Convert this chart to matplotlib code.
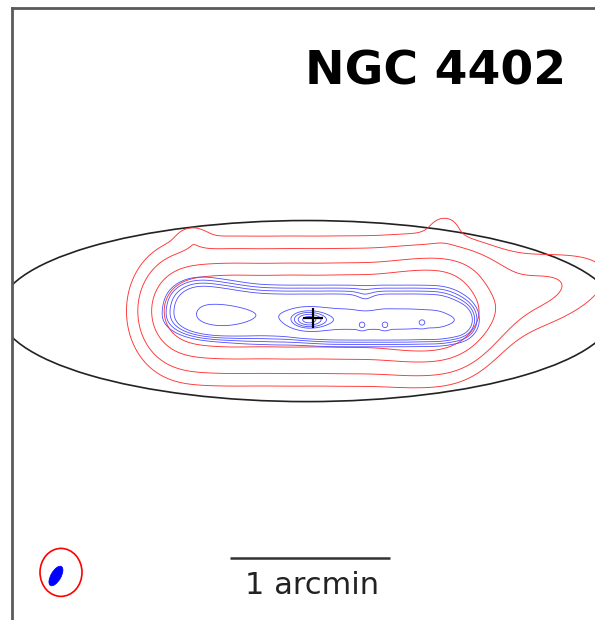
import numpy as np
import matplotlib
matplotlib.use("Agg")
import matplotlib.pyplot as plt
from matplotlib.patches import Ellipse

# ---------------- data (arcsec offsets from the galaxy centre) ----------------
galaxy_name = "NGC 4402"
scale_bar_label = "1 arcmin"
scale_bar_length = 60.0          # arcsec

# optical disk ellipse
disk_center = (-2.25, 2.6)
disk_width = 231.0
disk_height = 67.9

# red (low resolution) map: gaussian components
red_x = [-49.9, -29.3, -8.6, 12.0, 32.6, 51.4, 85.1, 66.4, 49.5, -45.4]
red_y = [2.6, 2.6, 2.6, 2.6, 2.6, 2.6, 8.25, 21.0, 34.9, 30.75]
red_sx = [12.0, 12.0, 12.0, 12.0, 12.0, 12.0, 23.6, 18.75, 4.5, 4.0]
red_sy = [15.0, 15.0, 15.0, 15.0, 15.0, 15.0, 10.1, 6.75, 3.75, 3.0]
red_pa = [0, 0, 0, 0, 0, 0, 20, 0, 0, 0]
red_amp = [0.685, 0.685, 0.685, 0.685, 0.685, 0.685, 0.298, 0.12, 0.13, 0.11]
red_levels = [0.172, 0.295, 0.487, 0.667]

# blue (high resolution) map
blue_x = [-42.75, -33.4, -24.0, -13.9, -3.75, 6.4, 16.5, 26.6, 36.75, 46.9,   # disk
          -35.6,                                                           # west knot
          -1.9,                                                            # nucleus
          6.4, 16.9, 27.4, 37.9, 48.4, 55.0,                               # east ridge
          18.4, 27.0, 40.9,                                                # small knots
          19.5]                                                            # notch
blue_y = [4.5, 3.0, 1.5, 1.1, 1.1, 1.1, 1.1, 1.1, 1.1, 1.1,
          -0.4,
          -0.75,
          -1.5, -1.5, -1.5, -1.5, -1.5, -0.8,
          -3.0, -3.0, -1.9,
          5.0]
blue_sx = [5.6] * 10 + [7.5, 4.6] + [6.0, 6.0, 6.0, 6.0, 4.5, 3.0] + [1.0, 1.0, 1.0] + [3.2]
blue_sy = [4.5] * 10 + [3.0, 2.4] + [3.2] * 6 + [1.0, 1.0, 1.0] + [2.5]
blue_amp = ([0.715] * 10 + [1.0, 3.0] + [0.67, 0.67, 0.67, 0.67, 0.6, 0.5]
            + [0.9, 0.9, 0.9] + [-0.3])
blue_levels = [0.044, 0.08, 0.135, 0.216, 1.15, 2.1, 2.6, 3.2, 3.8]

# beams
red_beam = (-94.5, -95.4, 15.75, 18.0, 0.0)
blue_beam = (-96.4, -96.75, 8.25, 3.75, 60.0)

centre = (0.0, 0.0)


def field(X, Y, xs, ys, sxs, sys_, amps, pas=None):
    Z = np.zeros_like(X)
    if pas is None:
        pas = [0.0] * len(xs)
    for x0, y0, sx, sy, a, pa in zip(xs, ys, sxs, sys_, amps, pas):
        t = np.deg2rad(pa)
        dx, dy = X - x0, Y - y0
        u = dx * np.cos(t) + dy * np.sin(t)
        v = -dx * np.sin(t) + dy * np.cos(t)
        Z += a * np.exp(-0.5 * (u / sx) ** 2 - 0.5 * (v / sy) ** 2)
    return Z


fig = plt.figure(figsize=(5.95, 6.2), dpi=100)
ax = fig.add_axes([12 / 595, -8 / 620, 620 / 595, 620 / 620])
ax.set_xlim(-112.875, -112.875 + 232.5)
ax.set_ylim(-116.25, 116.25)
ax.set_xticks([])
ax.set_yticks([])
for s in ax.spines.values():
    s.set_color("#5a5a5a")
    s.set_linewidth(2.0)

gx = np.linspace(-90, 125, 900)
gy = np.linspace(-50, 50, 450)
GX, GY = np.meshgrid(gx, gy)
Zr = field(GX, GY, red_x, red_y, red_sx, red_sy, red_amp, red_pa)
Zb = field(GX, GY, blue_x, blue_y, blue_sx, blue_sy, blue_amp)

ax.contour(GX, GY, Zr, levels=red_levels, colors=[(1.0, 0.2, 0.2)], linewidths=0.65)
ax.contour(GX, GY, Zb, levels=blue_levels, colors=[(0.3, 0.3, 1.0)], linewidths=0.6)

ax.add_patch(Ellipse(disk_center, disk_width, disk_height, angle=0,
                     fill=False, edgecolor="#222222", lw=1.2))

ax.plot(*centre, marker="+", ms=15, mew=1.6, color="black")

ax.add_patch(Ellipse(red_beam[:2], red_beam[2], red_beam[3], angle=red_beam[4],
                     fill=False, edgecolor="red", lw=1.2))
ax.add_patch(Ellipse(blue_beam[:2], blue_beam[2], blue_beam[3], angle=blue_beam[4],
                     facecolor="blue", edgecolor="blue", lw=0.5))

bx0 = -31.1
ax.plot([bx0, bx0 + scale_bar_length], [-90, -90], color="#333333", lw=1.8,
        solid_capstyle="butt")
ax.text(-0.4, -103.5, scale_bar_label, ha="center", va="baseline",
        fontsize=22, color="#222222")

ax.text(94.75, 87.4, galaxy_name, ha="right", va="baseline",
        fontsize=34, fontweight="bold", color="black")

fig.savefig("out.png", dpi=100)
